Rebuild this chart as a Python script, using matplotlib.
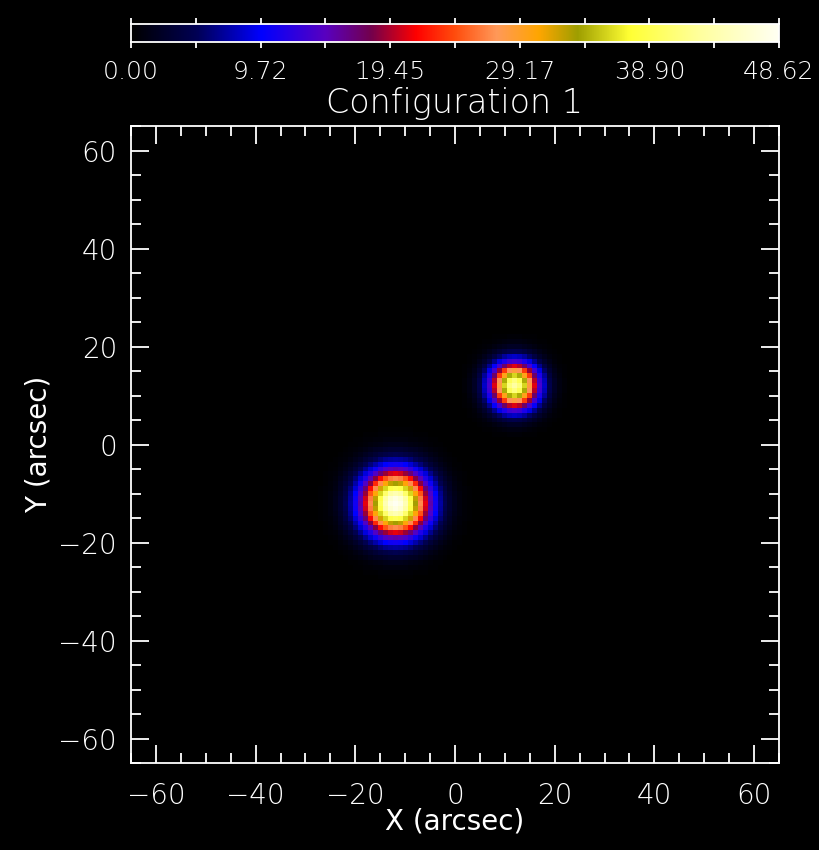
import numpy as np
import matplotlib
matplotlib.use("Agg")
import matplotlib.pyplot as plt
from matplotlib.colors import LinearSegmentedColormap
from matplotlib.ticker import MultipleLocator

# sources (arcsec): positions, peak values, gaussian widths
src_x = [-12.0, 12.0]
src_y = [-12.0, 12.0]
src_peak = [48.62, 43.0]
src_sigma = [4.6, 3.3]

cbar_labels = ["0.00", "9.72", "19.45", "29.17", "38.90", "48.62"]
vmax = 48.62

# image grid, 1 arcsec pixels
pix = np.arange(-64, 65)
gx, gy = np.meshgrid(pix, pix)
img = np.zeros(gx.shape)
for x0, y0, a, s in zip(src_x, src_y, src_peak, src_sigma):
    img += a * np.exp(-((gx - x0) ** 2 + (gy - y0) ** 2) / (2 * s ** 2))

# rough copy of the IDL "STD GAMMA-II" table
cmap = LinearSegmentedColormap.from_list("gamma2", [
    (0.00, (0, 0, 0)),
    (0.10, (0, 0, 0.33)),
    (0.20, (0, 0, 1)),
    (0.30, (0.35, 0, 0.75)),
    (0.37, (0.45, 0, 0.3)),
    (0.44, (1, 0, 0)),
    (0.50, (1, 0.3, 0.05)),
    (0.565, (1, 0.6, 0.35)),
    (0.63, (1, 0.65, 0)),
    (0.69, (0.62, 0.62, 0)),
    (0.77, (1, 1, 0.2)),
    (0.88, (1, 1, 0.62)),
    (1.00, (1, 1, 0.95)),
])

plt.rcParams['font.family'] = ['DejaVu Sans']
plt.rcParams['font.weight'] = 'light'

fig = plt.figure(figsize=(8.2, 8.5), dpi=100, facecolor='black')

# main image
ax = fig.add_axes([131 / 820, 1 - 763 / 850, 648 / 820, 637 / 850])
ax.set_facecolor('black')
ax.imshow(img, cmap=cmap, vmin=0, vmax=vmax, origin='lower',
          extent=[-64.5, 64.5, -64.5, 64.5], interpolation='nearest', aspect='auto')
ax.set_xlim(-65, 65)
ax.set_ylim(-65, 65)
ax.xaxis.set_major_locator(MultipleLocator(20))
ax.xaxis.set_minor_locator(MultipleLocator(5))
ax.yaxis.set_major_locator(MultipleLocator(20))
ax.yaxis.set_minor_locator(MultipleLocator(5))
ax.tick_params(which='both', direction='in', top=True, right=True, color='white',
               labelcolor='white', labelsize=20, width=1.3)
ax.tick_params(which='major', length=13, pad=10)
ax.tick_params(which='minor', length=7)
ax.tick_params(axis='x', which='major', pad=14)
for sp in ax.spines.values():
    sp.set_color('white')
    sp.set_linewidth(1.3)
ax.set_xlabel("X (arcsec)", color='white', fontsize=20, labelpad=-2)
ax.set_ylabel("Y (arcsec)", color='white', fontsize=20, labelpad=4)

# colorbar
cax = fig.add_axes([131 / 820, 1 - 42 / 850, 648 / 820, 18 / 850])
grad = np.linspace(0, vmax, 256).reshape(1, -1)
cax.imshow(grad, cmap=cmap, vmin=0, vmax=vmax, aspect='auto',
           extent=[0, vmax, 0, 1])
cb_ticks = np.linspace(0, vmax, len(cbar_labels))
cax.set_xticks(cb_ticks)
cax.set_xticklabels(cbar_labels)
cax.set_xticks(np.linspace(0, vmax, 2 * len(cbar_labels) - 1), minor=True)
cax.set_yticks([])
cax.tick_params(which='both', axis='x', direction='out', top=True, bottom=True,
                color='white', labelcolor='white', labelsize=18, length=4, width=1.3)
cax.tick_params(which='major', pad=9)
for sp in cax.spines.values():
    sp.set_color('white')
    sp.set_linewidth(1.3)

fig.text(455 / 820, 1 - 104 / 850, "Configuration 1", color='white', fontsize=24,
         ha='center', va='center')

fig.savefig("out.png", dpi=100, facecolor='black')
